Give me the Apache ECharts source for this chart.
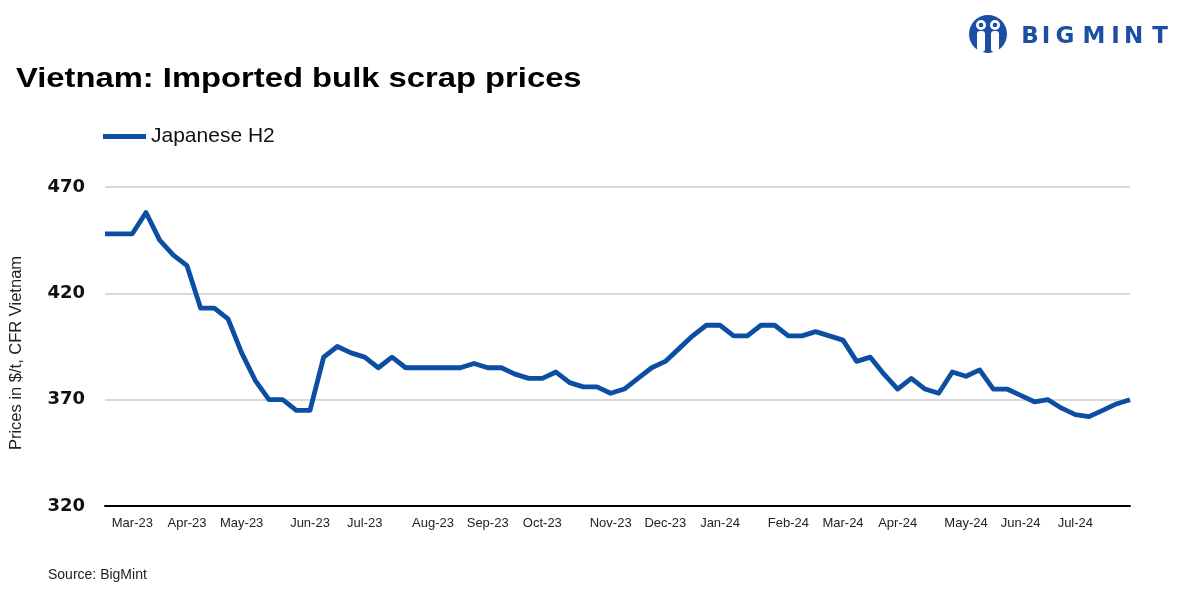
<!DOCTYPE html>
<html>
<head>
<meta charset="utf-8">
<script src="https://cdn.jsdelivr.net/npm/echarts@6/dist/echarts.min.js"></script>
<style>
html,body{margin:0;padding:0;background:#fff;}
#chart{width:1201px;height:600px;}
</style>
</head>
<body>
<div id="chart"></div>
<script>
// Weekly dates (Mondays), Feb-2023 to Jul-2024
const weekStart = '2023-02-20';
const weekCount = 76;
// Japanese H2, CFR Vietnam, $/t (weekly)
const seriesName = 'Japanese H2';
const japaneseH2 = [
  448, 448, 448, 458, 445, 438, 433, 413, 413, 408,
  392, 379, 370, 370, 365, 365, 390, 395, 392, 390,
  385, 390, 385, 385, 385, 385, 385, 387, 385, 385,
  382, 380, 380, 383, 378, 376, 376, 373, 375, 380,
  385, 388, 394, 400, 405, 405, 400, 400, 405, 405,
  400, 400, 402, 400, 398, 388, 390, 382, 375, 380,
  375, 373, 383, 381, 384, 375, 375, 372, 369, 370,
  366, 363, 362, 365, 368, 370
];
const monthNames = ['Jan','Feb','Mar','Apr','May','Jun','Jul','Aug','Sep','Oct','Nov','Dec'];
const yTicks = [320, 370, 420, 470];
const titleText = 'Vietnam: Imported bulk scrap prices';
const sourceText = 'Source: BigMint';
const yAxisName = 'Prices in $/t, CFR Vietnam';
const logoLetters = ['B', 'I', 'G', 'M', 'I', 'N', 'T'];

const weeks = [];
{
  const d0 = new Date(weekStart + 'T00:00:00Z');
  for (let i = 0; i < weekCount; i++) {
    const d = new Date(d0.getTime() + i * 7 * 86400000);
    weeks.push(d.toISOString().slice(0, 10));
  }
}
function isMonthStart(idx) {
  const day = +weeks[idx].slice(8, 10);
  return day <= 7 && idx > 0;
}
function monthLabel(s) {
  return monthNames[+s.slice(5, 7) - 1] + '-' + s.slice(2, 4);
}

const blue = '#0b4ea2';
const logoBlue = '#1a4fa3';
const logoX = [1030, 1046, 1065, 1094, 1115.5, 1133.5, 1160];

const chart = echarts.init(document.getElementById('chart'), null, {renderer: 'canvas'});
chart.setOption({
  backgroundColor: '#fff',
  animation: false,
  legend: {
    left: 103, top: 126, padding: 0,
    icon: 'rect', itemWidth: 43, itemHeight: 5, itemGap: 10,
    textStyle: {fontFamily: 'Liberation Sans', fontSize: 21, color: '#111'},
    data: [seriesName]
  },
  grid: {left: 105, right: 71, top: 187, bottom: 94},
  xAxis: {
    type: 'category',
    data: weeks,
    boundaryGap: false,
    axisLine: {lineStyle: {color: '#000', width: 2}},
    axisTick: {show: false},
    axisLabel: {
      interval: (idx) => isMonthStart(idx),
      formatter: (v) => monthLabel(v),
      fontFamily: 'Liberation Sans', fontSize: 13, color: '#222', margin: 11
    },
    splitLine: {show: false}
  },
  yAxis: {
    type: 'value',
    min: yTicks[0], max: yTicks[yTicks.length - 1], interval: 50,
    axisLine: {show: false},
    axisTick: {show: false},
    axisLabel: {fontFamily: 'DejaVu Sans', fontWeight: 'bold', fontSize: 18, color: '#111', margin: 20, padding: [3, 0, 0, 0]},
    splitLine: {lineStyle: {color: '#d9d9d9', width: 2}}
  },
  series: [{
    name: seriesName,
    type: 'line',
    data: japaneseH2,
    showSymbol: false,
    symbol: 'none',
    lineStyle: {color: blue, width: 4.8, join: 'round'},
    itemStyle: {color: blue}
  }],
  graphic: [
    {type: 'text', x: 16, y: 79, scaleX: 1.17,
     style: {text: titleText, font: 'bold 28px "Liberation Sans"', fill: '#000', verticalAlign: 'middle'}},
    {type: 'text', x: 16, y: 353, rotation: Math.PI / 2,
     style: {text: yAxisName, font: '16.5px "Liberation Sans"', fill: '#222', align: 'center', verticalAlign: 'middle'}},
    {type: 'text', left: 48, top: 568,
     style: {text: sourceText, font: '14px "Liberation Sans"', fill: '#222'}},
    // logo icon
    {type: 'circle', shape: {cx: 988, cy: 34, r: 19}, style: {fill: logoBlue}},
    {type: 'rect', shape: {x: 977, y: 31, width: 8, height: 21, r: 3}, style: {fill: '#fff'}},
    {type: 'rect', shape: {x: 991, y: 31, width: 8, height: 21, r: 3}, style: {fill: '#fff'}},
    {type: 'circle', shape: {cx: 981, cy: 25, r: 5}, style: {fill: '#fff'}},
    {type: 'circle', shape: {cx: 995, cy: 25, r: 5}, style: {fill: '#fff'}},
    {type: 'circle', shape: {cx: 981, cy: 25, r: 2.3}, style: {fill: logoBlue}},
    {type: 'circle', shape: {cx: 995, cy: 25, r: 2.3}, style: {fill: logoBlue}},
    {type: 'rect', shape: {x: 986.5, y: 38, width: 3, height: 15}, style: {fill: logoBlue}},
    ...logoLetters.map((ch, i) => ({
      type: 'text', x: logoX[i], y: 37,
      style: {text: ch, font: 'bold 23px "DejaVu Sans"', fill: logoBlue, align: 'center', verticalAlign: 'middle'}
    }))
  ]
});
</script>
</body>
</html>
